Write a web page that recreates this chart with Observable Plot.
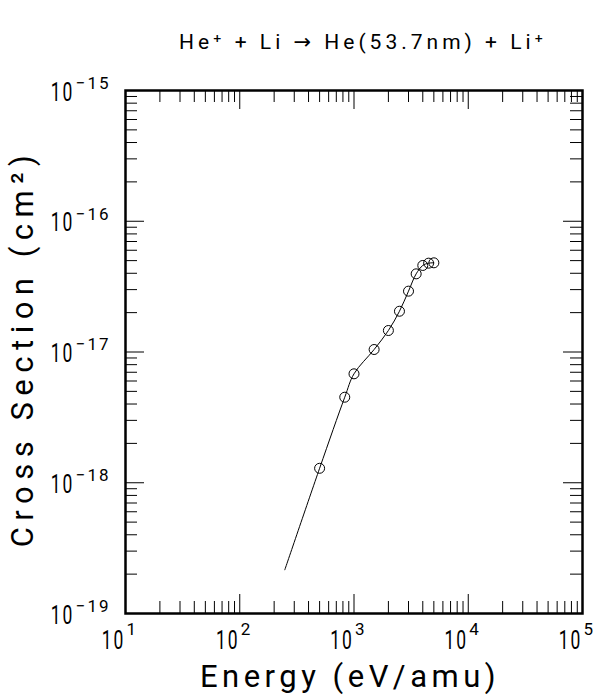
<!DOCTYPE html>
<html><head><meta charset="utf-8">
<script src="https://cdn.jsdelivr.net/npm/d3@7"></script>
<script src="https://cdn.jsdelivr.net/npm/@observablehq/plot@0.6"></script>
<style>body{margin:0;background:#fff}</style>
</head><body><div id="chart"></div>
<script>
// measured data points (Energy in eV/amu, cross section in cm^2)
const energy = [500, 830, 1000, 1500, 2000, 2500, 3000, 3500, 4000, 4500, 5000];
const crossSection = [1.29e-18, 4.51e-18, 6.81e-18, 1.045e-17, 1.46e-17, 2.05e-17, 2.92e-17, 3.96e-17, 4.59e-17, 4.78e-17, 4.81e-17];
// fitted curve
const fitEnergy = [248, 500, 830, 1000, 1500, 2000, 2500, 3000, 3500, 4000, 4500, 5000];
const fitCrossSection = [2.16e-19, 1.29e-18, 4.51e-18, 6.81e-18, 1.045e-17, 1.46e-17, 2.05e-17, 2.92e-17, 3.96e-17, 4.59e-17, 4.78e-17, 4.81e-17];
// axes
const xDecades = [10, 100, 1000, 10000, 100000];
const xExponents = ["1", "2", "3", "4", "5"];
const yDecades = [1e-19, 1e-18, 1e-17, 1e-16, 1e-15];
const yExponents = ["\u221219", "\u221218", "\u221217", "\u221216", "\u221215"];
const minorMultipliers = [2, 3, 4, 5, 6, 7, 8, 9];
const titleText = "He\u207A + Li \u2192 He(53.7nm) + Li\u207A";
const xLabel = "Energy (eV/amu)";
const yLabel = "Cross Section (cm\u00B2)";

const points = energy.map((e, i) => ({e, s: crossSection[i]}));
const fit = fitEnergy.map((e, i) => ({e, s: fitCrossSection[i]}));
const xMinor = xDecades.slice(0, -1).flatMap(d => minorMultipliers.map(m => d * m));
const yMinor = yDecades.slice(0, -1).flatMap(d => minorMultipliers.map(m => d * m));

const W = 598, H = 696, mL = 125, mR = 16, mT = 90, mB = 83;
const PW = W - mL - mR, PH = H - mT - mB;
const MAJ = 19, MIN = 12;
const FONT = "Roboto,'DejaVu Sans',sans-serif";
const T = {fill: "#000", lineAnchor: "middle"};

const chart = Plot.plot({
  width: W, height: H,
  marginLeft: mL, marginRight: mR, marginTop: mT, marginBottom: mB,
  x: {type: "log", domain: [10, 1e5], axis: null},
  y: {type: "log", domain: [1e-19, 1e-15], axis: null},
  style: {fontFamily: FONT, fontWeight: 400, background: "#fff", color: "#000"},
  marks: [
    // ticks bottom / top
    Plot.tickX(xMinor, {x: d => d, insetTop: PH - MIN, stroke: "#000", strokeWidth: 1}),
    Plot.tickX(xMinor, {x: d => d, insetBottom: PH - MIN, stroke: "#000", strokeWidth: 1}),
    Plot.tickX(xDecades, {x: d => d, insetTop: PH - MAJ, stroke: "#000", strokeWidth: 1}),
    Plot.tickX(xDecades, {x: d => d, insetBottom: PH - MAJ, stroke: "#000", strokeWidth: 1}),
    // ticks left / right
    Plot.tickY(yMinor, {y: d => d, insetRight: PW - MIN, stroke: "#000", strokeWidth: 1}),
    Plot.tickY(yMinor, {y: d => d, insetLeft: PW - MIN, stroke: "#000", strokeWidth: 1}),
    Plot.tickY(yDecades, {y: d => d, insetRight: PW - MAJ, stroke: "#000", strokeWidth: 1}),
    Plot.tickY(yDecades, {y: d => d, insetLeft: PW - MAJ, stroke: "#000", strokeWidth: 1}),
    Plot.frame({stroke: "#000", strokeWidth: 2.5}),
    // tick labels x
    Plot.text(xDecades, {...T, x: d => d, frameAnchor: "bottom", text: () => "10", textAnchor: "end", dx: 0, dy: 27, fontSize: 25}),
    Plot.text(xDecades, {...T, x: d => d, frameAnchor: "bottom", text: (d, i) => xExponents[i], textAnchor: "start", dx: 1, dy: 16, fontSize: 17}),
    // tick labels y
    Plot.text(yDecades, {...T, y: d => d, frameAnchor: "left", text: () => "10", textAnchor: "end", dx: -51, dy: 2, fontSize: 25}),
    Plot.text(yDecades, {...T, y: d => d, frameAnchor: "left", text: (d, i) => yExponents[i], textAnchor: "end", dx: -15, dy: -7, fontSize: 17}),
    // fitted line and points
    Plot.line(fit, {x: "e", y: "s", curve: "catmull-rom", stroke: "#000", strokeWidth: 1}),
    Plot.dot(points, {x: "e", y: "s", r: 5, stroke: "#000", strokeWidth: 1, fill: "none"}),
    // titles
    Plot.text([titleText], {...T, frameAnchor: "top", textAnchor: "middle", text: d => d, dx: 9, dy: -48, fontSize: 21}),
    Plot.text([xLabel], {...T, frameAnchor: "bottom", textAnchor: "middle", text: d => d, dx: -4, dy: 64, fontSize: 31}),
    Plot.text([yLabel], {...T, frameAnchor: "left", textAnchor: "middle", text: d => d, dx: -102, dy: -4, rotate: -90, fontSize: 31})
  ]
});
const sel = d3.select(chart);
const byText = s => sel.selectAll("text").filter(function () { return this.textContent === s; });
byText(titleText).style("letter-spacing", "4px");
byText(xLabel).style("letter-spacing", "4.5px");
byText(yLabel).style("letter-spacing", "6.5px");
byText("10").each(function () {
  this.setAttribute("transform", (this.getAttribute("transform") || "") + " scale(0.7,1)");
  this.style.letterSpacing = "3px";
});
yExponents.forEach(s => byText(s).style("letter-spacing", "2px"));
document.getElementById("chart").appendChild(chart);
</script>
</body></html>
